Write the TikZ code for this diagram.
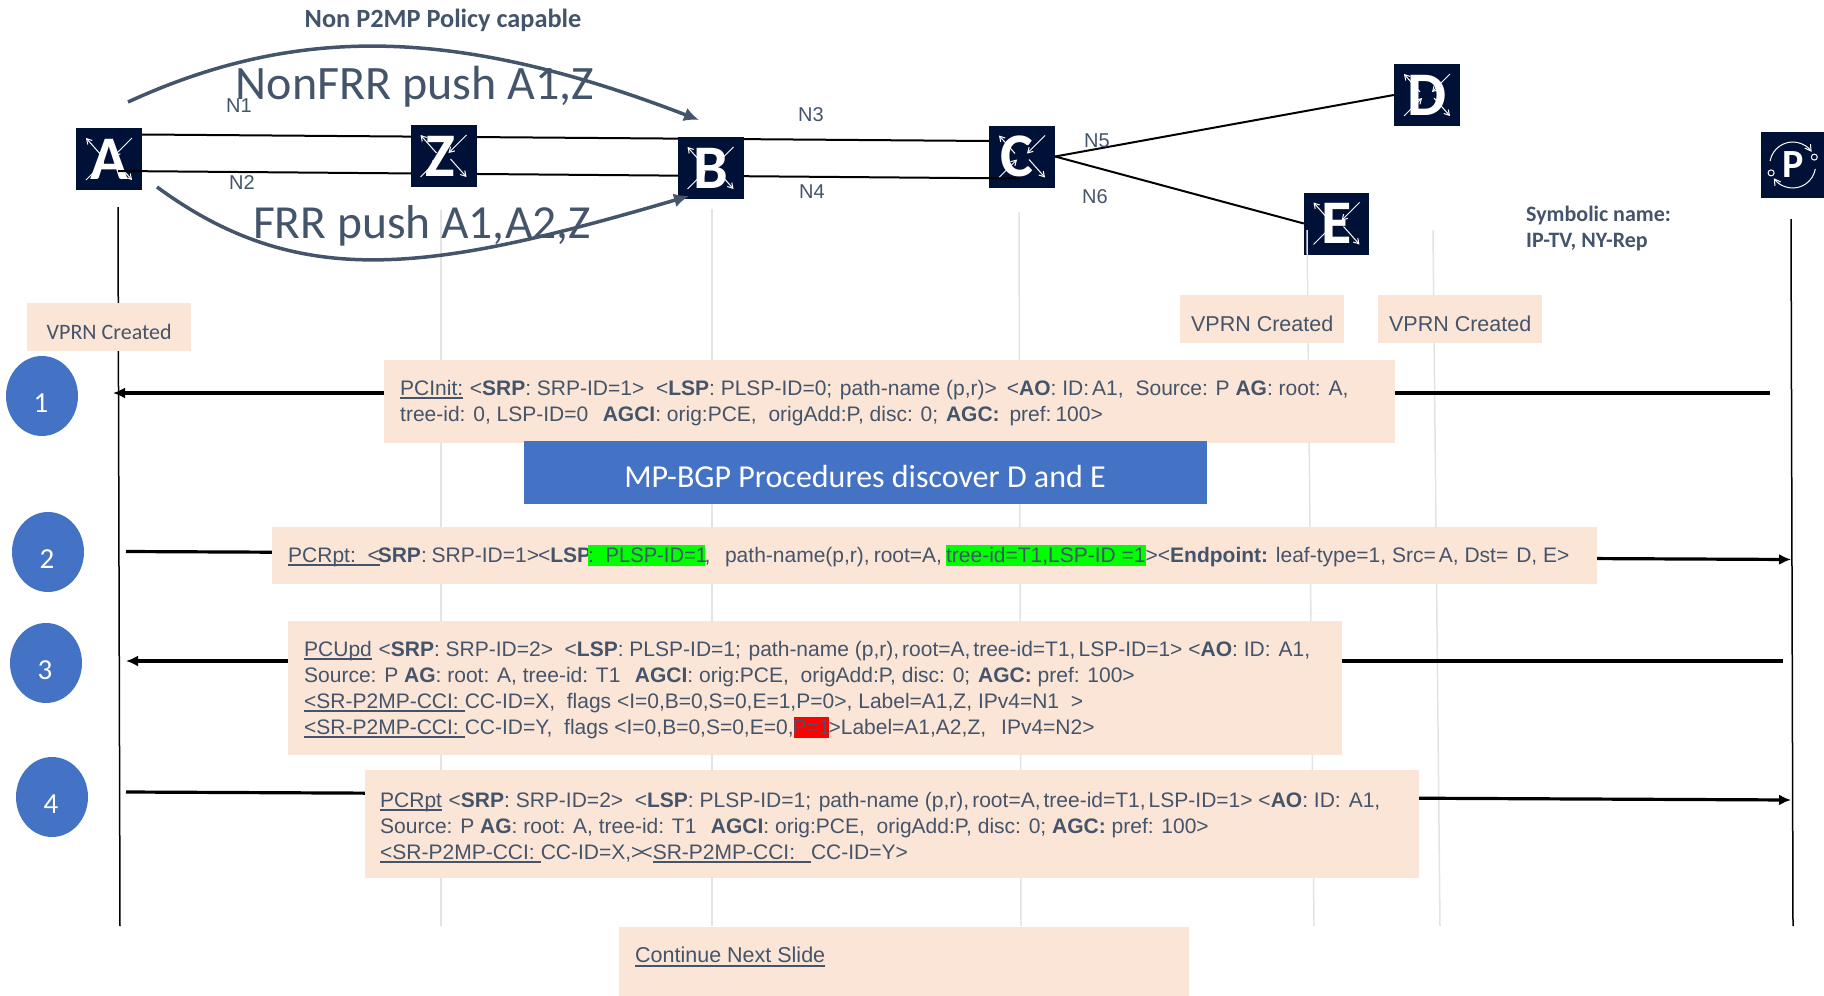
\documentclass[tikz,border=0pt]{standalone}
\usepackage{fontspec}
\usepackage{graphicx}
\setmainfont{Liberation Sans}
\newfontfamily\cb{Carlito}
\usetikzlibrary{arrows.meta,shapes.geometric}
\definecolor{navy}{HTML}{001137}
\definecolor{slate}{HTML}{44546A}
\definecolor{peach}{HTML}{FBE5D6}
\definecolor{lifegray}{HTML}{E3E3E3}
\definecolor{blueb}{HTML}{4472C4}
\newcommand{\ull}[1]{\setbox0\hbox{#1}\rlap{\rule[-4pt]{\wd0}{2pt}}\box0}
\newcommand{\hlt}[2]{{\setlength{\fboxsep}{0pt}\colorbox{#1}{\rule[-4pt]{0pt}{21pt}#2}}}
\newcommand{\rarr}[4]{\draw[white,line width=1pt,-{Straight Barb[length=5pt,width=6pt]}] ([xshift=#1pt,yshift=#2pt]path picture bounding box.center) -- ([xshift=#3pt,yshift=#4pt]path picture bounding box.center);}
\newcommand{\drop}[2]{\smash{\raisebox{-#1pt}{#2}}}
\tikzset{
 x=1pt,y=-1pt,
 router/.style={fill=navy,minimum width=66pt,minimum height=62pt,inner sep=0pt,text=white,
   font=\cb\bfseries\fontsize{62}{62}\selectfont,
   path picture={
     \rarr{-7}{3}{-23}{21}
     \rarr{23}{21}{5}{3}
     \rarr{7}{-3}{23}{-21}
     \rarr{-23}{-21}{-5}{-3}
   }},
 life/.style={lifegray,line width=1.5pt},
 lifeb/.style={black,line width=1.5pt},
 link/.style={black,line width=2pt},
 msg/.style={black,line width=3.2pt,-{Latex[length=12pt,width=11pt]}},
 curv/.style={slate,line width=3.5pt,-{Latex[length=15pt,width=14pt]}},
 pbox/.style={fill=peach,inner sep=0pt,anchor=north west},
 num/.style={ellipse,fill=blueb,text=white,minimum width=72pt,minimum height=80pt,font=\cb\fontsize{29}{29}\selectfont,inner sep=0pt},
 lab/.style={text=slate,font=\fontsize{20}{20}\selectfont,inner sep=0pt},
 msgt/.style={text=slate,font=\fontsize{21}{26}\selectfont,inner sep=0pt,anchor=west,align=left},
 vprn/.style={text=slate,font=\fontsize{21.5}{26}\selectfont,inner sep=0pt},
}
\begin{document}
\begin{tikzpicture}
\useasboundingbox (0,0) rectangle (1824,996);
% lifelines
\coordinate (la0) at (118,207); \coordinate (la1) at (120,926);
\coordinate (lz0) at (441,210); \coordinate (lz1) at (441,926);
\coordinate (lb0) at (712,209); \coordinate (lb1) at (712,926);
\coordinate (lc0) at (1019,212); \coordinate (lc1) at (1021,926);
\coordinate (le0) at (1307,230); \coordinate (le1) at (1314,926);
\coordinate (lx0) at (1433,230); \coordinate (lx1) at (1440,926);
\coordinate (lp0) at (1791,219); \coordinate (lp1) at (1793,926);
\draw[lifeb] (la0) -- (la1);
\draw[life] (lz0) -- (lz1);
\draw[life] (lb0) -- (lb1);
\draw[life] (lc0) -- (lc1);
\draw[lifeb] (lp0) -- (lp1);
% routers drawn under links
\node[router] (A) at (109,159) {A};
\node[router] (C) at (1022,156.5) {\kern-10pt C};
\coordinate (t0) at (142,134.5); \coordinate (t1) at (989,141);
\coordinate (b0) at (118,171); \coordinate (b1) at (1020,178.5);
\draw[link] (t0) -- (t1);
\draw[link] (b0) -- (b1);
\node[router] (Z) at (443.5,156) {\kern-6pt Z};
\node[router] (B) at (710.5,168) {B};
\node[router] (D) at (1427,95) {D};
\node[router,minimum width=65pt] (E) at (1336.5,223.5) {E};
\draw[link] (C.east) -- (D.west);
\draw[link] (C.east) -- (E.west);
\draw[life] (le0) -- (le1);
\draw[life] (lx0) -- (lx1);
% P
\node[fill=navy,minimum width=63pt,minimum height=66pt,inner sep=0pt,anchor=west,text=white,font=\cb\bfseries\fontsize{40}{40}\selectfont] (P) at (1761,165) {P};
\draw[white,line width=1pt,-{Straight Barb[length=6pt,width=7pt]}] (P.center) ++(-22.6,-4) arc[start angle=-170,end angle=-35,radius=23];
\draw[white,line width=1pt,-{Straight Barb[length=6pt,width=7pt]}] (P.center) ++(22.6,4) arc[start angle=10,end angle=145,radius=23];
\draw[white,fill=navy,line width=1pt] (P.center) ++(21.6,-7.9) circle[radius=3];
\draw[white,fill=navy,line width=1pt] (P.center) ++(-21.6,7.9) circle[radius=3];
% curves
\coordinate (c1s) at (128,102); \coordinate (c1e) at (699,120);
\coordinate (c2s) at (157,187); \coordinate (c2e) at (689,196);
\draw[curv] (c1s) .. controls (300,23) and (460,28) .. (c1e);
\draw[curv] (c2s) .. controls (300,292) and (430,272) .. (c2e);
\node[text=slate,font=\cb\bfseries\fontsize{26.3}{26.3}\selectfont,inner sep=0pt] (title) at (443,20.5) {Non P2MP Policy capable};
\node[text=slate,font=\cb\fontsize{48}{48}\selectfont,inner sep=0pt] (nf) at (415,87) {NonFRR push A1,Z};
\node[text=slate,font=\cb\fontsize{47.5}{47.5}\selectfont,inner sep=0pt] (ff) at (422,226) {FRR push A1,A2,Z};
\node[lab] (n1) at (239,106) {N1};
\node[lab] (n2) at (242,183) {N2};
\node[lab] (n3) at (811,115) {N3};
\node[lab] (n4) at (812,192) {N4};
\node[lab] (n5) at (1097,141) {N5};
\node[lab] (n6) at (1095,197) {N6};
\node[text=slate,font=\cb\bfseries\fontsize{22}{26}\selectfont,inner sep=0pt,align=left,anchor=north west] (sym) at (1526,206) {Symbolic name:\\IP-TV, NY-Rep};
% vprn
\node[pbox,minimum width=164pt,minimum height=48pt] (v1) at (27,303) {};
\node[text=slate,font=\cb\fontsize{22}{22}\selectfont,inner sep=0pt] at ([yshift=-4.5pt]v1.center) {VPRN Created};
\node[pbox,minimum width=164pt,minimum height=48pt] (v2) at (1180,295) {};
\node[vprn] at ([yshift=-4.5pt]v2.center) {VPRN Created};
\node[pbox,minimum width=164pt,minimum height=48pt] (v3) at (1378,295) {};
\node[vprn] at ([yshift=-4.5pt]v3.center) {VPRN Created};
% message arrows
\coordinate (m1s) at (1770,393); \coordinate (m1e) at (113,393);
\coordinate (m2s) at (126,551.5); \coordinate (m2e) at (1791,559.5);
\coordinate (m3s) at (1783,661); \coordinate (m3e) at (126,661);
\coordinate (m4s) at (126,792); \coordinate (m4e) at (1791,800);
\draw[msg] (m1s) -- (m1e);
\draw[msg] (m2s) -- (m2e);
\draw[msg] (m3s) -- (m3e);
\draw[msg] (m4s) -- (m4e);
% circles
\node[num] (s1) at (42,396) {\drop{16}{\kern-2pt 1}};
\node[num] (s2) at (48,552) {\drop{16}{\kern-2pt 2}};
\node[num] (s3) at (46,663) {\drop{16}{\kern-2pt 3}};
\node[num] (s4) at (52,797) {\drop{16}{\kern-2pt 4}};
% boxes
\node[pbox,minimum width=1011pt,minimum height=83pt] (b1) at (384,359.5) {};
\node[msgt] at (400,403) {\ull{PCInit:}\kern-5pt\ \ <\textbf{SRP}: SRP-ID=1>\ \ <\textbf{LSP}: PLSP-ID=0;\kern-4pt\ \ path-name (p,r)>\kern10pt<\textbf{AO}: ID:\kern3pt A1,\kern6pt\ Source: P \textbf{AG}: root: A,\\tree-id: 0, LSP-ID=0\kern-3pt\ \ \ \textbf{AGCI}: orig:PCE,\ \ origAdd:P, disc: 0;\kern2pt\ \textbf{AGC:}\kern4pt\ pref:\kern4pt 100>};
\node[fill=blueb,minimum width=683pt,minimum height=63pt,inner sep=0pt,text=white,font=\cb\fontsize{32}{32}\selectfont] (mp) at (865,472.5) {\drop{15}{MP-BGP Procedures discover D and E}};
\node[pbox,minimum width=1325pt,minimum height=57pt] (b2) at (272,527) {};
\node[msgt] at (288,556) {\ull{PCRpt:\ \ <}\kern-2pt\textbf{SRP}:\kern-1pt\ SRP-ID=1>\kern-1pt<\textbf{LSP}\kern-3pt\hlt{green}{:\ \ \scalebox{0.96}[1]{PLSP-ID=1}\kern-2.5pt},\ \ \kern3pt path-name(p,r),\kern4pt root=A,\kern4pt\hlt{green}{tree-id=T1,LSP-ID =1}><\textbf{Endpoint:} leaf-type=1,\ Src=\kern3pt A,\ Dst=\kern8pt D,\ E>};
\node[pbox,minimum width=1054pt,minimum height=134pt] (b3) at (288,621) {};
\node[msgt] at (304,690) {\ull{PCUpd}\kern-5pt\ \ <\textbf{SRP}: SRP-ID=2>\ \ <\textbf{LSP}: PLSP-ID=1;\kern-4pt\ \ path-name (p,r),\kern3pt root=A,\kern3pt tree-id=T1,\kern3pt LSP-ID=1> <\textbf{AO}: ID:\kern8pt A1,\\Source: P \textbf{AG}: root: A, tree-id: T1\kern-3pt\ \ \ \textbf{AGCI}: orig:PCE,\ \ origAdd:P, disc: 0;\kern2pt\ \textbf{AGC:} pref: 100>\\\ull{<SR-P2MP-CCI:\kern6pt}CC-ID=X,\ \ flags <I=0,B=0,S=0,E=1,P=0>,\kern6pt Label=A1,Z, IPv4=N1\ \ >\\\ull{<SR-P2MP-CCI:\kern6pt}CC-ID=Y,\ \ flags <I=0,B=0,S=0,E=0,\hlt{red}{\kern-1pt P=1\kern-2pt}>Label=A1,A2,Z,\kern15pt IPv4=N2>};
\node[pbox,minimum width=1054pt,minimum height=108pt] (b4) at (365,770) {};
\node[msgt] at (380,827.5) {\ull{PCRpt}\kern-5pt\ \ <\textbf{SRP}: SRP-ID=2>\ \ <\textbf{LSP}: PLSP-ID=1;\kern-4pt\ \ path-name (p,r),\kern3pt root=A,\kern3pt tree-id=T1,\kern3pt LSP-ID=1> <\textbf{AO}: ID:\kern8pt A1,\\Source: P \textbf{AG}: root: A, tree-id: T1\kern-3pt\ \ \ \textbf{AGCI}: orig:PCE,\ \ origAdd:P, disc: 0; \textbf{AGC:} pref: 100>\\\ull{<SR-P2MP-CCI:\kern6pt}CC-ID=X,>\kern-3pt<\ull{SR-P2MP-CCI:\kern16pt}CC-ID=Y>};
\node[pbox,minimum width=570pt,minimum height=69pt] (b5) at (619,927) {};
\node[msgt,font=\fontsize{21.5}{26}\selectfont] at (635,957) {\ull{Continue Next Slide}};
\end{tikzpicture}
\end{document}
